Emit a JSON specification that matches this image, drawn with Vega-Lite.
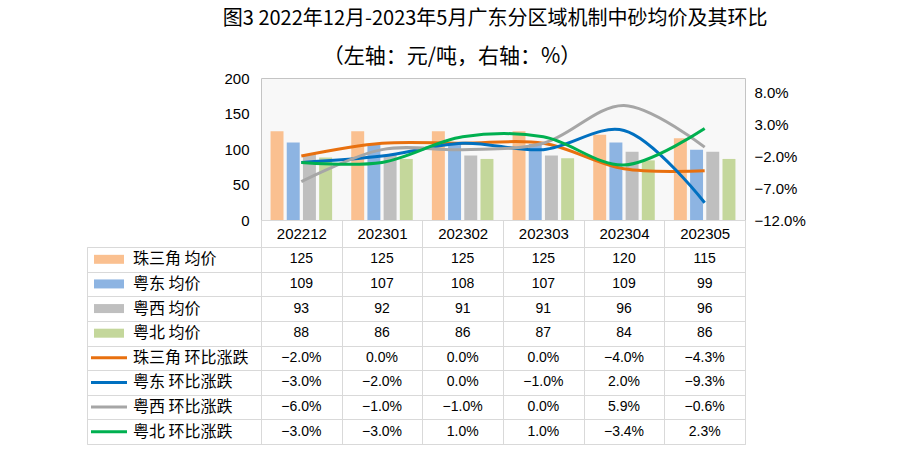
{
  "$schema": "https://vega.github.io/schema/vega-lite/v6.json",
  "background": "white",
  "padding": {"left": 84, "top": 8, "right": 5, "bottom": 5},
  "config": {
    "font": "Liberation Sans",
    "view": {"stroke": null},
    "axis": {"labelFont": "Liberation Sans", "labelColor": "black"}
  },
  "title": {
    "text": "图3 2022年12月-2023年5月广东分区域机制中砂均价及其环比",
    "font": "Noto Sans CJK SC",
    "fontSize": 20,
    "fontWeight": "normal",
    "color": "black",
    "anchor": "middle",
    "dx": 50,
    "offset": 17
  },
  "datasets": {
    "d": [
      {"month": "202212", "region": "珠三角", "kind": "均价", "row": "珠三角 均价", "value": 125},
      {"month": "202301", "region": "珠三角", "kind": "均价", "row": "珠三角 均价", "value": 125},
      {"month": "202302", "region": "珠三角", "kind": "均价", "row": "珠三角 均价", "value": 125},
      {"month": "202303", "region": "珠三角", "kind": "均价", "row": "珠三角 均价", "value": 125},
      {"month": "202304", "region": "珠三角", "kind": "均价", "row": "珠三角 均价", "value": 120},
      {"month": "202305", "region": "珠三角", "kind": "均价", "row": "珠三角 均价", "value": 115},
      {"month": "202212", "region": "粤东", "kind": "均价", "row": "粤东 均价", "value": 109},
      {"month": "202301", "region": "粤东", "kind": "均价", "row": "粤东 均价", "value": 107},
      {"month": "202302", "region": "粤东", "kind": "均价", "row": "粤东 均价", "value": 108},
      {"month": "202303", "region": "粤东", "kind": "均价", "row": "粤东 均价", "value": 107},
      {"month": "202304", "region": "粤东", "kind": "均价", "row": "粤东 均价", "value": 109},
      {"month": "202305", "region": "粤东", "kind": "均价", "row": "粤东 均价", "value": 99},
      {"month": "202212", "region": "粤西", "kind": "均价", "row": "粤西 均价", "value": 93},
      {"month": "202301", "region": "粤西", "kind": "均价", "row": "粤西 均价", "value": 92},
      {"month": "202302", "region": "粤西", "kind": "均价", "row": "粤西 均价", "value": 91},
      {"month": "202303", "region": "粤西", "kind": "均价", "row": "粤西 均价", "value": 91},
      {"month": "202304", "region": "粤西", "kind": "均价", "row": "粤西 均价", "value": 96},
      {"month": "202305", "region": "粤西", "kind": "均价", "row": "粤西 均价", "value": 96},
      {"month": "202212", "region": "粤北", "kind": "均价", "row": "粤北 均价", "value": 88},
      {"month": "202301", "region": "粤北", "kind": "均价", "row": "粤北 均价", "value": 86},
      {"month": "202302", "region": "粤北", "kind": "均价", "row": "粤北 均价", "value": 86},
      {"month": "202303", "region": "粤北", "kind": "均价", "row": "粤北 均价", "value": 87},
      {"month": "202304", "region": "粤北", "kind": "均价", "row": "粤北 均价", "value": 84},
      {"month": "202305", "region": "粤北", "kind": "均价", "row": "粤北 均价", "value": 86},
      {"month": "202212", "region": "珠三角", "kind": "环比涨跌", "row": "珠三角 环比涨跌", "value": -0.02},
      {"month": "202301", "region": "珠三角", "kind": "环比涨跌", "row": "珠三角 环比涨跌", "value": 0.0},
      {"month": "202302", "region": "珠三角", "kind": "环比涨跌", "row": "珠三角 环比涨跌", "value": 0.0},
      {"month": "202303", "region": "珠三角", "kind": "环比涨跌", "row": "珠三角 环比涨跌", "value": 0.0},
      {"month": "202304", "region": "珠三角", "kind": "环比涨跌", "row": "珠三角 环比涨跌", "value": -0.04},
      {"month": "202305", "region": "珠三角", "kind": "环比涨跌", "row": "珠三角 环比涨跌", "value": -0.043},
      {"month": "202212", "region": "粤东", "kind": "环比涨跌", "row": "粤东 环比涨跌", "value": -0.03},
      {"month": "202301", "region": "粤东", "kind": "环比涨跌", "row": "粤东 环比涨跌", "value": -0.02},
      {"month": "202302", "region": "粤东", "kind": "环比涨跌", "row": "粤东 环比涨跌", "value": 0.0},
      {"month": "202303", "region": "粤东", "kind": "环比涨跌", "row": "粤东 环比涨跌", "value": -0.01},
      {"month": "202304", "region": "粤东", "kind": "环比涨跌", "row": "粤东 环比涨跌", "value": 0.02},
      {"month": "202305", "region": "粤东", "kind": "环比涨跌", "row": "粤东 环比涨跌", "value": -0.093},
      {"month": "202212", "region": "粤西", "kind": "环比涨跌", "row": "粤西 环比涨跌", "value": -0.06},
      {"month": "202301", "region": "粤西", "kind": "环比涨跌", "row": "粤西 环比涨跌", "value": -0.01},
      {"month": "202302", "region": "粤西", "kind": "环比涨跌", "row": "粤西 环比涨跌", "value": -0.01},
      {"month": "202303", "region": "粤西", "kind": "环比涨跌", "row": "粤西 环比涨跌", "value": 0.0},
      {"month": "202304", "region": "粤西", "kind": "环比涨跌", "row": "粤西 环比涨跌", "value": 0.059},
      {"month": "202305", "region": "粤西", "kind": "环比涨跌", "row": "粤西 环比涨跌", "value": -0.006},
      {"month": "202212", "region": "粤北", "kind": "环比涨跌", "row": "粤北 环比涨跌", "value": -0.03},
      {"month": "202301", "region": "粤北", "kind": "环比涨跌", "row": "粤北 环比涨跌", "value": -0.03},
      {"month": "202302", "region": "粤北", "kind": "环比涨跌", "row": "粤北 环比涨跌", "value": 0.01},
      {"month": "202303", "region": "粤北", "kind": "环比涨跌", "row": "粤北 环比涨跌", "value": 0.01},
      {"month": "202304", "region": "粤北", "kind": "环比涨跌", "row": "粤北 环比涨跌", "value": -0.034},
      {"month": "202305", "region": "粤北", "kind": "环比涨跌", "row": "粤北 环比涨跌", "value": 0.023}
    ]
  },
  "columns": 2,
  "bounds": "flush",
  "spacing": {"row": 27, "column": 0},
  "concat": [
    {
      "width": 174,
      "height": 142,
      "data": {"values": [{}]},
      "mark": {"type": "text"},
      "encoding": {"text": {"value": ""}}
    },
    {
      "width": 484,
      "height": 142,
      "title": {
        "text": "（左轴：元/吨，右轴：%）",
        "font": "Noto Sans CJK SC",
        "fontSize": 21,
        "fontWeight": "normal",
        "color": "black",
        "anchor": "middle",
        "dx": -51,
        "offset": 4
      },
      "view": {"fill": "#F8F8F8", "stroke": "#C4C4C4"},
      "data": {"name": "d"},
      "encoding": {
        "x": {
          "field": "month",
          "type": "nominal",
          "scale": {"domain": ["202212", "202301", "202302", "202303", "202304", "202305"], "paddingInner": 0, "paddingOuter": 0},
          "axis": {
            "title": null,
            "labelAngle": 0,
            "labelFontSize": 15,
            "labelColor": "black",
            "ticks": true,
            "tickBand": "extent",
            "tickSize": 27,
            "tickColor": "#D9D9D9",
            "domainColor": "#D9D9D9",
            "labelBaseline": "middle",
            "labelPadding": -13.5
          }
        }
      },
      "layer": [
        {
          "transform": [{"filter": "datum.kind == '均价'"}],
          "mark": {"type": "bar"},
          "encoding": {
            "xOffset": {
              "field": "region",
              "type": "nominal",
              "scale": {"domain": ["珠三角", "粤东", "粤西", "粤北"], "paddingInner": 0.2, "paddingOuter": 0.59}
            },
            "y": {
              "field": "value",
              "type": "quantitative",
              "scale": {"domain": [0, 200], "nice": false},
              "axis": {
                "title": null,
                "values": [0, 50, 100, 150, 200],
                "labelFontSize": 15,
                "ticks": false,
                "domain": false,
                "grid": false,
                "labelPadding": 12
              }
            },
            "color": {
              "field": "row",
              "type": "nominal",
              "legend": null,
              "scale": {
                "domain": ["珠三角 均价", "粤东 均价", "粤西 均价", "粤北 均价", "珠三角 环比涨跌", "粤东 环比涨跌", "粤西 环比涨跌", "粤北 环比涨跌"],
                "range": ["#FAC090", "#8DB4E2", "#BFBFBF", "#C4D79B", "#E8700F", "#0070C0", "#A6A6A6", "#00B050"]
              }
            }
          }
        },
        {
          "transform": [{"filter": "datum.kind == '环比涨跌'"}],
          "mark": {"type": "line", "interpolate": "catmull-rom", "strokeWidth": 3},
          "encoding": {
            "y": {
              "field": "value",
              "type": "quantitative",
              "scale": {"domain": [-0.12, 0.102], "nice": false, "zero": false},
              "axis": {
                "orient": "right",
                "title": null,
                "values": [-0.12, -0.07, -0.02, 0.03, 0.08],
                "format": ".1%",
                "labelFontSize": 15,
                "ticks": false,
                "domain": false,
                "grid": false,
                "labelPadding": 9
              }
            },
            "color": {
              "field": "row",
              "type": "nominal",
              "legend": null,
              "scale": {
                "domain": ["珠三角 均价", "粤东 均价", "粤西 均价", "粤北 均价", "珠三角 环比涨跌", "粤东 环比涨跌", "粤西 环比涨跌", "粤北 环比涨跌"],
                "range": ["#FAC090", "#8DB4E2", "#BFBFBF", "#C4D79B", "#E8700F", "#0070C0", "#A6A6A6", "#00B050"]
              }
            }
          }
        }
      ],
      "resolve": {"scale": {"y": "independent"}}
    },
    {
      "width": 174,
      "height": 197,
      "view": {"stroke": "#D9D9D9"},
      "data": {"name": "d"},
      "transform": [{"filter": "datum.month == '202212'"}],
      "encoding": {
        "y": {
          "field": "row",
          "type": "nominal",
          "scale": {"domain": ["珠三角 均价", "粤东 均价", "粤西 均价", "粤北 均价", "珠三角 环比涨跌", "粤东 环比涨跌", "粤西 环比涨跌", "粤北 环比涨跌"], "paddingInner": 0, "paddingOuter": 0},
          "axis": {"title": null, "labels": false, "ticks": false, "domain": false, "grid": true, "tickBand": "extent", "gridColor": "#D9D9D9"}
        },
        "color": {
          "field": "row",
          "type": "nominal",
          "legend": null,
          "scale": {
            "domain": ["珠三角 均价", "粤东 均价", "粤西 均价", "粤北 均价", "珠三角 环比涨跌", "粤东 环比涨跌", "粤西 环比涨跌", "粤北 环比涨跌"],
            "range": ["#FAC090", "#8DB4E2", "#BFBFBF", "#C4D79B", "#E8700F", "#0070C0", "#A6A6A6", "#00B050"]
          }
        }
      },
      "layer": [
        {
          "transform": [{"filter": "datum.kind == '均价'"}],
          "mark": {"type": "point", "shape": "M-1,-0.3H1V0.3H-1Z", "filled": true, "size": 900, "opacity": 1},
          "encoding": {
            "x": {"datum": "sym", "type": "nominal", "scale": {"type": "point", "domain": ["sym", "name", "c3", "c4", "c5", "c6", "c7"], "padding": 0.625, "align": 0.7333}, "axis": null}
          }
        },
        {
          "transform": [{"filter": "datum.kind == '环比涨跌'"}],
          "mark": {"type": "point", "shape": "M-1,0H1", "filled": false, "size": 1296, "strokeWidth": 3, "opacity": 1},
          "encoding": {
            "x": {"datum": "sym", "type": "nominal", "scale": {"type": "point", "domain": ["sym", "name", "c3", "c4", "c5", "c6", "c7"], "padding": 0.625, "align": 0.7333}, "axis": null}
          }
        },
        {
          "mark": {"type": "text", "align": "left", "baseline": "middle", "font": "Noto Sans CJK SC", "fontSize": 16, "color": "black"},
          "encoding": {
            "x": {"datum": "name", "type": "nominal", "scale": {"type": "point", "domain": ["sym", "name", "c3", "c4", "c5", "c6", "c7"], "padding": 0.625, "align": 0.7333}, "axis": null},
            "text": {"field": "row", "type": "nominal"},
            "color": {"value": "black"}
          }
        }
      ]
    },
    {
      "width": 484,
      "height": 197,
      "view": {"stroke": "#D9D9D9"},
      "data": {"name": "d"},
      "encoding": {
        "x": {
          "field": "month",
          "type": "nominal",
          "scale": {"domain": ["202212", "202301", "202302", "202303", "202304", "202305"], "paddingInner": 0, "paddingOuter": 0},
          "axis": {"orient": "top", "title": null, "labels": false, "ticks": false, "domain": false, "grid": true, "tickBand": "extent", "gridColor": "#D9D9D9"}
        },
        "y": {
          "field": "row",
          "type": "nominal",
          "scale": {"domain": ["珠三角 均价", "粤东 均价", "粤西 均价", "粤北 均价", "珠三角 环比涨跌", "粤东 环比涨跌", "粤西 环比涨跌", "粤北 环比涨跌"], "paddingInner": 0, "paddingOuter": 0},
          "axis": {"title": null, "labels": false, "ticks": false, "domain": false, "grid": true, "tickBand": "extent", "gridColor": "#D9D9D9"}
        }
      },
      "layer": [
        {
          "transform": [{"filter": "datum.kind == '均价'"}],
          "mark": {"type": "text", "fontSize": 14, "color": "black", "baseline": "middle"},
          "encoding": {"text": {"field": "value", "type": "quantitative", "format": "d"}}
        },
        {
          "transform": [{"filter": "datum.kind == '环比涨跌'"}],
          "mark": {"type": "text", "fontSize": 14, "color": "black", "baseline": "middle"},
          "encoding": {"text": {"field": "value", "type": "quantitative", "format": ".1%"}}
        }
      ]
    }
  ]
}
